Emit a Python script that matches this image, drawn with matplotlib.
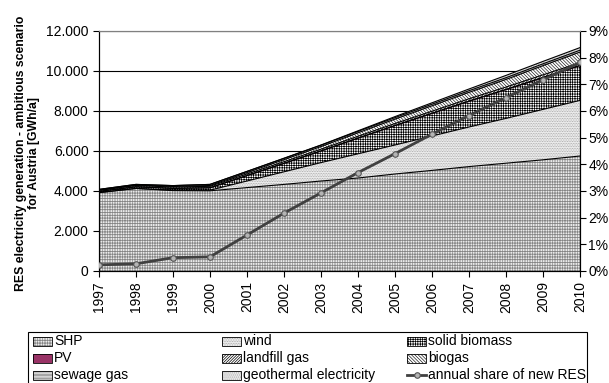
import numpy as np
import matplotlib
matplotlib.use("Agg")
import matplotlib.pyplot as plt
from matplotlib.patches import Rectangle
from matplotlib.lines import Line2D
from matplotlib.ticker import FuncFormatter, PercentFormatter

plt.rcParams["font.family"] = ["Liberation Sans", "DejaVu Sans"]
plt.rcParams["hatch.linewidth"] = 0.5

# ── Data: RES electricity generation, ambitious scenario Austria [GWh/a] ──
years = [1997, 1998, 1999, 2000, 2001, 2002, 2003, 2004, 2005, 2006, 2007, 2008, 2009, 2010]

shp = [3920, 4130, 4020, 4010, 4170, 4330, 4500, 4650, 4850, 5030, 5220, 5390, 5560, 5750]
wind = [0, 0, 20, 30, 330, 630, 920, 1210, 1450, 1720, 1980, 2240, 2520, 2780]
solid_biomass = [60, 80, 90, 120, 270, 420, 580, 780, 970, 1130, 1290, 1440, 1590, 1740]
pv = [2, 2, 3, 4, 5, 6, 7, 8, 9, 10, 11, 12, 13, 15]
landfill_gas = [50, 60, 65, 70, 75, 80, 85, 90, 95, 100, 110, 115, 125, 130]
biogas = [20, 25, 30, 40, 70, 100, 130, 170, 220, 270, 320, 380, 460, 530]
sewage_gas = [28, 33, 42, 56, 60, 64, 68, 72, 76, 80, 84, 88, 92, 95]
geothermal = [0, 0, 0, 0, 0, 10, 10, 30, 50, 70, 85, 115, 120, 130]

# annual share of new RES (fraction of consumption)
share_new_res = [0.0023, 0.0027, 0.0050, 0.0053, 0.0135, 0.0217, 0.0293, 0.0369,
                 0.0440, 0.0513, 0.0583, 0.0650, 0.0717, 0.0782]

# label, values, facecolor, hatch, hatch colour
layers = [
    ("SHP", shp, "white", "||||||||||" + "------", "#858585"),
    ("wind", wind, "#f4f4f4", "..........", "#9a9a9a"),
    ("solid biomass", solid_biomass, "white", "+++++++", "black"),
    ("PV", pv, "#993366", None, "#993366"),
    ("landfill gas", landfill_gas, "white", "////////////", "black"),
    ("biogas", biogas, "white", "\\" * 10, "#222222"),
    ("sewage gas", sewage_gas, "white", "------------", "#777777"),
    ("geothermal electricity", geothermal, "#e6e6e6", "........", "#aaaaaa"),
]

fig = plt.figure(figsize=(6.09, 3.83), dpi=100)
ax = fig.add_axes([99 / 609, 1 - 271 / 383, 481 / 609, 240 / 383])

bottom = np.zeros(len(years))
for label, vals, fc, hatch, hc in layers:
    top = bottom + np.array(vals, dtype=float)
    ax.fill_between(years, bottom, top, facecolor=fc, edgecolor=hc,
                    hatch=hatch, linewidth=0, zorder=1)
    ax.plot(years, top, color="black", linewidth=0.8, zorder=2)
    bottom = top

ax.set_xlim(1997, 2010)
ax.set_ylim(0, 12000)
ax.set_yticks(range(0, 12001, 2000))
ax.yaxis.set_major_formatter(FuncFormatter(lambda v, p: f"{v:,.0f}".replace(",", ".")))
ax.set_xticks(years)
ax.set_xticklabels([str(y) for y in years], rotation=90)
ax.yaxis.grid(True, color="black", linewidth=0.8)
ax.set_axisbelow(True)
ax.tick_params(axis="both", direction="out", length=4, labelsize=10, width=0.8)
ax.spines["top"].set_color("#808080")
ax.set_ylabel("RES electricity generation - ambitious scenario\nfor Austria [GWh/a]",
              fontsize=8.8, fontweight="bold")
ax.yaxis.set_label_coords(-0.122, 0.49)

# secondary axis: annual share of new RES
ax2 = ax.twinx()
ax2.plot(years, share_new_res, color="#404040", linewidth=2, marker="o",
         markersize=4, markerfacecolor="#b4b4b4", markeredgecolor="#555555",
         markeredgewidth=0.8, zorder=3)
ax2.set_ylim(0, 0.09)
ax2.set_yticks(np.arange(0, 0.0901, 0.01))
ax2.yaxis.set_major_formatter(PercentFormatter(1, decimals=0))
ax2.tick_params(axis="y", direction="out", length=4, labelsize=10, width=0.8, pad=2)
ax2.spines["top"].set_color("#808080")

# ── Legend box below the chart ───────────────────────────────────────────
lg = fig.add_axes([0, 0, 1, 1])
lg.set_xlim(0, 609)
lg.set_ylim(383, 0)
lg.axis("off")
lg.add_patch(Rectangle((28, 332), 559, 52, fill=False, edgecolor="black", linewidth=0.8))

col_x = [33, 222, 407]
row_y = [341, 358, 375]
order = ["SHP", "wind", "solid biomass", "PV", "landfill gas", "biogas",
         "sewage gas", "geothermal electricity"]
style = {l[0]: l for l in layers}
for i, name in enumerate(order):
    x = col_x[i % 3]
    y = row_y[i // 3]
    _, _, fc, hatch, hc = style[name]
    lg.add_patch(Rectangle((x, y - 4.5), 19, 9, facecolor=fc, edgecolor=hc,
                           hatch=hatch, linewidth=0))
    lg.add_patch(Rectangle((x, y - 4.5), 19, 9, fill=False, edgecolor="black", linewidth=0.6))
    lg.text(x + 21, y, name, fontsize=10, va="center", ha="left")

x, y = col_x[2], row_y[2]
lg.add_line(Line2D([x, x + 19], [y, y], color="#404040", linewidth=2))
lg.add_line(Line2D([x + 9.5], [y], marker="o", markersize=4, markerfacecolor="#b4b4b4",
                   markeredgecolor="#555555", markeredgewidth=0.8))
lg.text(x + 21, y, "annual share of new RES", fontsize=10, va="center", ha="left")

fig.savefig("out.png", dpi=100)
